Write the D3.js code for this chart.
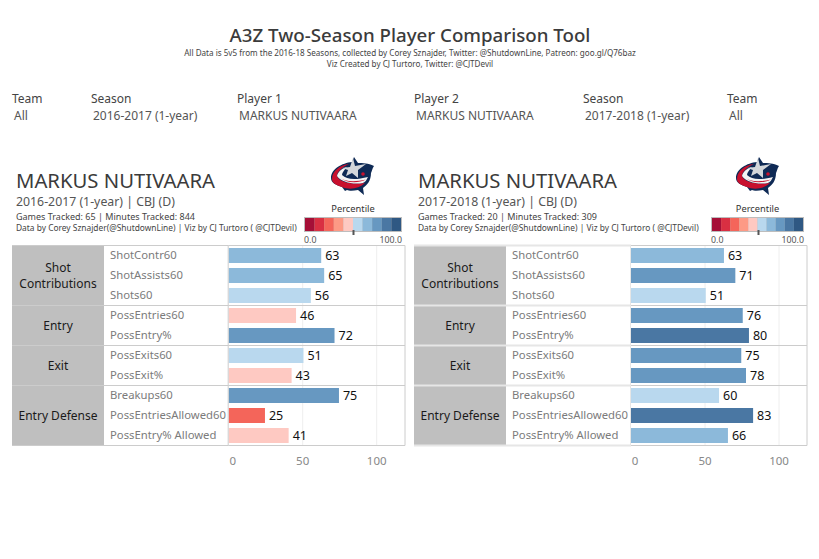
<!DOCTYPE html>
<html>
<head>
<meta charset="utf-8">
<script src="https://cdn.jsdelivr.net/npm/d3@7"></script>
<style>
  html, body { margin: 0; background: #fff; }
  text { font-family: "Noto Sans", sans-serif; }
</style>
</head>
<body>
<div id="chart"></div>
<script>
// labels
let categories = ["Shot\nContributions", "Entry", "Exit", "Entry Defense"];
let categorySizes = [3, 2, 2, 3];
let metrics = ["ShotContr60", "ShotAssists60", "Shots60", "PossEntries60", "PossEntry%",
  "PossExits60", "PossExit%", "Breakups60", "PossEntriesAllowed60", "PossEntry% Allowed"];
let xTicks = [0, 50, 100];

// percentile values
let leftValues = [62.5, 64.5, 55.5, 45.5, 71.5, 50.5, 42.5, 74.5, 24.5, 40.5];
let rightValues = [62.8, 70.5, 50.5, 75.5, 79.7, 74.5, 77.7, 59.5, 82.5, 65.5];

let stepColors = ["#a50f37", "#d92f42", "#f4655a", "#fd9a85", "#fec9c2",
  "#b9d8ee", "#8cb9da", "#6798c1", "#4a77a3", "#2f5883"];

let filterLabels = ["Team", "Season", "Player 1", "Player 2", "Season", "Team"];
let filterValues = ["All", "2016-2017 (1-year)", "MARKUS NUTIVAARA", "MARKUS NUTIVAARA", "2017-2018 (1-year)", "All"];
let filterX = [12, 91, 237, 414, 583, 727];

let svg = d3.select("#chart").append("svg")
  .attr("width", 819)
  .attr("height", 559)
  .style("display", "block");

let titleColor = "#3b3b3b";

svg.append("text").attr("x", 410).attr("y", 42).attr("text-anchor", "middle")
  .attr("font-size", 18.7).attr("font-weight", 500).attr("fill", titleColor)
  .text("A3Z Two-Season Player Comparison Tool");
svg.append("text").attr("x", 410).attr("y", 55.5).attr("text-anchor", "middle")
  .attr("font-size", 8.1).attr("fill", "#444")
  .text("All Data is 5v5 from the 2016-18 Seasons, collected by Corey Sznajder, Twitter: @ShutdownLine, Patreon: goo.gl/Q76baz");
svg.append("text").attr("x", 410).attr("y", 66.5).attr("text-anchor", "middle")
  .attr("font-size", 8.1).attr("fill", "#444")
  .text("Viz Created by CJ Turtoro, Twitter: @CJTDevil");

// filter row
filterLabels.forEach(function(d, i) {
  svg.append("text").attr("x", filterX[i]).attr("y", 103)
    .attr("font-size", 12).attr("fill", "#444").text(d);
  svg.append("text").attr("x", filterX[i] + 2).attr("y", 119.5)
    .attr("font-size", 12).attr("fill", "#555").text(filterValues[i]);
});

// the logo is only decoration, drawn in a 55x45 box
function drawLogo(cx) {
  let g = svg.append("g").attr("transform", "translate(" + (cx - 27) + ",155)");
  g.append("path").attr("fill", "#0f2a55")
    .attr("d", "M6,23 C6,14 17,8 27,7 L29,2 L33,8 C38,8 43,8 49,11 C47,14 47,16 46,18 C46,26 42,30 38,33 L39,40 L33,35 C28,36 24,36 22,35 L20,36 L17,32 C11,30 6,28 6,23Z");
  g.append("path").attr("fill", "#c8102e")
    .attr("d", "M7,24 C7,16 15,10 24,9 C17,12 12,17 12,21 C14,27 26,30 40,28 C34,34 24,35 17,32 C11,30 7,28 7,24Z");
  g.append("path").attr("fill", "#f4f4f4")
    .attr("d", "M12,21 C13,16 18,13 22,12 C19,15 17,18 17,20 C22,25 31,25 43,22 C41,26 40,27 38,28 C28,30 16,27 12,21Z");
  g.append("path").attr("fill", "#c8102e")
    .attr("d", "M14,22 C20,27 30,27 41,24.5 C32,29 21,28 14,22Z");
  g.append("path").attr("fill", "#d3d6da")
    .attr("d", "M28,3 L30,11 L41,9 L33,15 L33,23 L27,18 L21,21 L23,15 L17,13 L25,12Z");
  g.append("circle").attr("cx", 38).attr("cy", 19).attr("r", 1.8).attr("fill", "#c8102e");
}

function drawPanel(opts) {
  let panel = svg.append("g");
  let top = 245.5, rowH = 20;
  let y0 = top;

  // scale shared by the bars, the grid and the tick labels
  let x = d3.scaleLinear().domain([0, 100]).range([opts.barX, opts.barX + 148]);
  let y = d3.scaleBand().domain(metrics).range([top, top + rowH * metrics.length]);
  let color = d3.scaleQuantize().domain([-0.4, 99.6]).range(stepColors);

  // header
  panel.append("text").attr("x", opts.left + 4).attr("y", 188)
    .attr("font-size", 20.3).attr("fill", titleColor).text("MARKUS NUTIVAARA");
  panel.append("text").attr("x", opts.left + 4).attr("y", 206)
    .attr("font-size", 12.3).attr("fill", "#555").text(opts.season + " | CBJ (D)");
  panel.append("text").attr("x", opts.left + 4).attr("y", 220)
    .attr("font-size", 9).attr("fill", "#444").text(opts.games);
  panel.append("text").attr("x", opts.left + 4).attr("y", 231)
    .attr("font-size", 8.4).attr("fill", "#444")
    .text("Data by Corey Sznajder(@ShutdownLine) | Viz by CJ Turtoro ( @CJTDevil)");

  // legend
  drawLogo(opts.logoX);
  let legendX = d3.scaleBand().domain(d3.range(10)).range([opts.legendL + 1, opts.legendR - 1]);
  panel.append("text").attr("x", (opts.legendL + opts.legendR) / 2).attr("y", 212).attr("text-anchor", "middle")
    .attr("font-size", 9.3).attr("fill", "#333").text("Percentile");
  panel.append("rect").attr("x", opts.legendL).attr("y", 217)
    .attr("width", opts.legendR - opts.legendL).attr("height", 15).attr("fill", "#bdbdbd");
  panel.selectAll(".step").data(stepColors).enter().append("rect")
    .attr("x", function(d, i) { return legendX(i); })
    .attr("y", 218)
    .attr("width", legendX.bandwidth())
    .attr("height", 13)
    .attr("fill", function(d) { return d; });
  panel.append("rect").attr("x", opts.markerX).attr("y", 230).attr("width", 2).attr("height", 5).attr("fill", "#555");
  panel.append("text").attr("x", opts.legendL).attr("y", 243)
    .attr("font-size", 8.8).attr("fill", "#555").text("0.0");
  panel.append("text").attr("x", opts.legendR).attr("y", 243).attr("text-anchor", "end")
    .attr("font-size", 8.8).attr("fill", "#555").text("100.0");

  // grey category cells
  categories.forEach(function(cat, i) {
    let h = categorySizes[i] * rowH;
    panel.append("rect").attr("x", opts.left).attr("y", y0)
      .attr("width", 92).attr("height", h).attr("fill", "#bfbfbf");
    let lines = cat.split("\n");
    lines.forEach(function(line, j) {
      panel.append("text").attr("x", opts.left + 46)
        .attr("y", y0 + h / 2 + 4 + (j - (lines.length - 1) / 2) * 16)
        .attr("text-anchor", "middle").attr("font-size", 12).attr("fill", "#1a1a1a").text(line);
    });
    y0 += h;
  });

  // vertical grid
  panel.selectAll(".grid").data(xTicks.slice(1)).enter().append("line")
    .attr("x1", function(d) { return x(d); })
    .attr("x2", function(d) { return x(d); })
    .attr("y1", top).attr("y2", top + rowH * metrics.length)
    .attr("stroke", "#eeeeee");

  // bars
  panel.selectAll(".bar").data(opts.values).enter().append("rect")
    .attr("x", x(0))
    .attr("y", function(d, i) { return y(metrics[i]) + 2.5; })
    .attr("width", function(d) { return x(d) - x(0); })
    .attr("height", 15)
    .attr("fill", function(d) { return color(d); });

  // metric names and value labels
  panel.selectAll(".metric").data(metrics).enter().append("text")
    .attr("x", opts.left + 98)
    .attr("y", function(d) { return y(d) + 13.5; })
    .attr("font-size", 11.3).attr("fill", "#7b7b7b")
    .text(function(d) { return d; });
  panel.selectAll(".val").data(opts.values).enter().append("text")
    .attr("x", function(d) { return x(d) + 4; })
    .attr("y", function(d, i) { return y(metrics[i]) + 14.5; })
    .attr("font-size", 12.5).attr("fill", "#111")
    .text(function(d) { return Math.round(d); });

  // borders, the right panel has a paler, thicker rule over the name columns
  let lineColor = "#cccccc";
  let breaks = d3.cumsum(categorySizes);
  [0].concat(Array.from(breaks)).forEach(function(n) {
    panel.append("line").attr("x1", opts.barX).attr("x2", opts.left + 393)
      .attr("y1", top + n * rowH).attr("y2", top + n * rowH).attr("stroke", lineColor);
    panel.append("line").attr("x1", opts.left).attr("x2", opts.barX)
      .attr("y1", top + n * rowH).attr("y2", top + n * rowH)
      .attr("stroke", opts.nameRule).attr("stroke-width", opts.nameRuleWidth);
  });
  panel.append("line").attr("x1", opts.barX - 0.5).attr("x2", opts.barX - 0.5)
    .attr("y1", top).attr("y2", top + 200).attr("stroke", opts.nameRule);
  panel.append("line").attr("x1", opts.left + 393).attr("x2", opts.left + 393)
    .attr("y1", top).attr("y2", top + 200).attr("stroke", lineColor);

  // x axis labels
  panel.selectAll(".tick-label").data(xTicks).enter().append("text")
    .attr("x", function(d) { return d === 0 ? x(d) + 4 : x(d); })
    .attr("y", 465)
    .attr("text-anchor", "middle")
    .attr("font-size", 11.5).attr("fill", "#888")
    .text(function(d) { return d; });
}

drawPanel({
  left: 12, barX: 228.7, logoX: 352, legendL: 304, legendR: 402, markerX: 352.5,
  values: leftValues, season: "2016-2017 (1-year)",
  games: "Games Tracked: 65  | Minutes Tracked: 844",
  nameRule: "#cccccc", nameRuleWidth: 1
});
drawPanel({
  left: 414, barX: 631, logoX: 757, legendL: 711, legendR: 804, markerX: 757.5,
  values: rightValues, season: "2017-2018 (1-year)",
  games: "Games Tracked: 20  | Minutes Tracked: 309",
  nameRule: "#e6e6e6", nameRuleWidth: 2
});
</script>
</body>
</html>
